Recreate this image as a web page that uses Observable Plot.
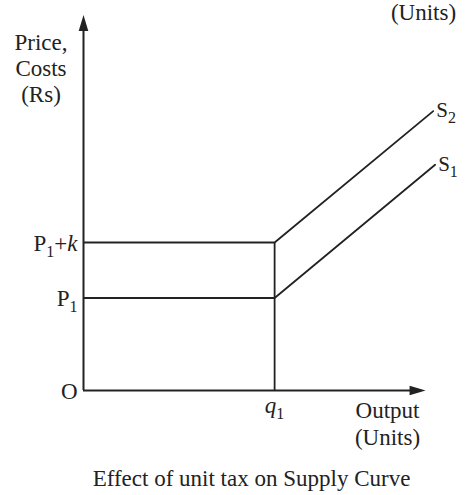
<!DOCTYPE html>
<html>
<head>
<meta charset="utf-8">
<script src="https://cdn.jsdelivr.net/npm/d3@7"></script>
<script src="https://cdn.jsdelivr.net/npm/@observablehq/plot@0.6"></script>
<style>
  html, body { margin: 0; padding: 0; background: #fff; }
  #chart svg { display: block; }
</style>
</head>
<body>
<div id="chart"></div>
<script>
// ---- data (abstract units of the diagram) ----
const q1 = 10;          // output level
const P1 = 5;           // price before tax
const k = 3;            // unit tax
const s1X = [q1, 18.4];
const s1Y = [P1, 12.2];
const s2X = [q1, 18.3];
const s2Y = [P1 + k, 15.1];
const axisXMax = 17.9;
const axisYMax = 20.3;

const yTickLabels = ["P_1+*k*", "P_1", "O"];
const yTickValues = [P1 + k, P1, 0];
const xTickLabels = ["*q*_1"];
const xTickValues = [q1];
const curveLabels = ["S_2", "S_1"];
const yTitle = "Price,\nCosts\n(Rs)";
const xTitle = "Output\n(Units)";
const captionText = "Effect of unit tax on Supply Curve";
const topRemnant = "(Units)";

const ink = "#222";
const font = "Liberation Serif, Times New Roman, serif";
const fs = 23;

const arrowHead = {
  draw(context) {
    context.moveTo(0, 0);
    context.lineTo(4.8, 16);
    context.lineTo(-4.8, 16);
    context.closePath();
  }
};

const s1 = s1X.map((x, i) => ({x, y: s1Y[i]}));
const s2 = s2X.map((x, i) => ({x, y: s2Y[i]}));
const yTicks = yTickValues.map((y, i) => ({y, label: yTickLabels[i]}));
const xTicks = xTickValues.map((x, i) => ({x, label: xTickLabels[i]}));
const ends = [s2[1], s1[1]].map((d, i) => ({...d, label: curveLabels[i]}));

const chart = Plot.plot({
  width: 465,
  height: 495,
  marginLeft: 83,
  marginRight: 38,
  marginTop: 20,
  marginBottom: 105,
  x: {domain: [0, 18], axis: null},
  y: {domain: [0, 20], axis: null},
  style: {fontFamily: font, fontSize: fs + "px", background: "#fff", overflow: "visible"},
  marks: [
    // axes
    Plot.ruleX([0], {y1: 0, y2: 19.5, stroke: ink, strokeWidth: 2}),
    Plot.ruleY([0], {x1: 0, x2: 17.2, stroke: ink, strokeWidth: 2}),
    Plot.dot([{x: 0, y: axisYMax}], {x: "x", y: "y", symbol: arrowHead, fill: ink, stroke: "none"}),
    Plot.dot([{x: axisXMax, y: 0}], {x: "x", y: "y", symbol: arrowHead, rotate: 90, fill: ink, stroke: "none"}),
    // price levels
    Plot.ruleY(yTickValues.slice(0, 2), {x1: 0, x2: q1, stroke: ink, strokeWidth: 1.8}),
    Plot.ruleX([q1], {y1: 0, y2: P1 + k, stroke: ink, strokeWidth: 1.8}),
    // supply curves
    Plot.line(s1, {x: "x", y: "y", stroke: ink, strokeWidth: 1.8}),
    Plot.line(s2, {x: "x", y: "y", stroke: ink, strokeWidth: 1.8}),
    // tick labels
    Plot.text(yTicks, {x: 0, y: "y", text: "label", textAnchor: "end", dx: -6, dy: 1, fill: ink, fontSize: fs}),
    Plot.text(xTicks, {x: "x", y: 0, text: "label", dy: 15, fill: ink, fontSize: fs}),
    Plot.text(ends, {x: "x", y: "y", text: "label", textAnchor: "start", dx: 3, dy: -1, fill: ink, fontSize: fs - 2}),
    // axis titles
    Plot.text([yTitle], {frameAnchor: "top-left", text: (d) => d, textAnchor: "middle", lineAnchor: "middle", lineHeight: 1.15, dx: -42.5, dy: 47, fill: ink, fontSize: fs}),
    Plot.text([xTitle], {frameAnchor: "bottom-right", text: (d) => d, textAnchor: "middle", lineAnchor: "middle", lineHeight: 1.15, dx: -40, dy: 32.5, fill: ink, fontSize: fs}),
    Plot.text([topRemnant], {frameAnchor: "top-right", text: (d) => d, textAnchor: "middle", lineAnchor: "middle", dx: -4, dy: -8, fill: ink, fontSize: fs}),
    // caption
    Plot.text([captionText], {frameAnchor: "bottom", text: (d) => d, textAnchor: "middle", lineAnchor: "middle", dx: -4, dy: 88, fill: ink, fontSize: fs})
  ]
});

// turn simple markup into subscripts / italics
function richify(svg) {
  const NS = "http://www.w3.org/2000/svg";
  svg.querySelectorAll("text").forEach((t) => {
    const s = t.textContent;
    if (!/[_*]/.test(s) || t.querySelector("tspan")) return;
    const size = parseFloat(t.getAttribute("font-size")) || fs;
    const shift = Math.round(size * 0.28);
    t.textContent = "";
    const re = /_(.)|\*([^*]+)\*|([^_*]+)/g;
    let m, sub = false;
    while ((m = re.exec(s))) {
      const ts = document.createElementNS(NS, "tspan");
      if (m[1]) {
        ts.textContent = m[1];
        ts.setAttribute("font-size", Math.round(size * 0.68));
        ts.setAttribute("dy", shift);
        sub = true;
      } else {
        ts.textContent = m[2] || m[3];
        if (m[2]) ts.setAttribute("font-style", "italic");
        if (sub) { ts.setAttribute("dy", -shift); sub = false; }
      }
      t.appendChild(ts);
    }
  });
}
richify(chart);
document.getElementById("chart").appendChild(chart);
</script>
</body>
</html>
